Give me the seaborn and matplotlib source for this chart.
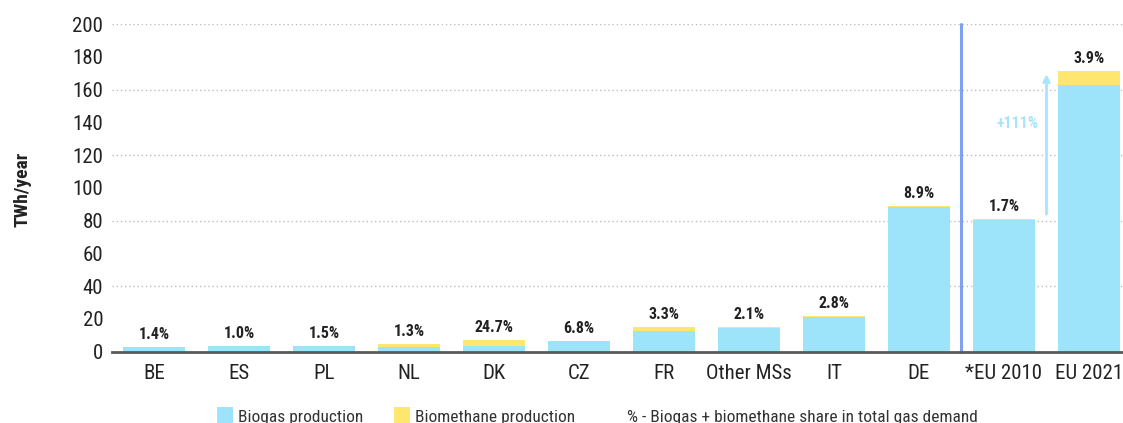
import matplotlib
matplotlib.use("Agg")
import matplotlib.pyplot as plt
from matplotlib.patches import Patch
import seaborn as sns
import numpy as np
import pandas as pd

# ---- data ----
categories = ["BE", "ES", "PL", "NL", "DK", "CZ", "FR", "Other MSs", "IT", "DE", "*EU 2010", "EU 2021"]
biogas = [2.9, 3.5, 3.5, 2.8, 3.4, 6.6, 12.8, 14.5, 20.9, 88.3, 80.6, 162.5]
biomethane = [0.0, 0.0, 0.0, 2.0, 3.9, 0.0, 2.3, 0.6, 1.0, 0.3, 0.6, 9.1]
share_labels = ["1.4%", "1.0%", "1.5%", "1.3%", "24.7%", "6.8%", "3.3%", "2.1%", "2.8%", "8.9%", "1.7%", "3.9%"]
y_ticks = [0, 20, 40, 60, 80, 100, 120, 140, 160, 180, 200]
grid_levels = [40, 80, 120, 160, 200]
growth_label = "+111%"
legend_labels = ["Biogas production", "Biomethane production", "% - Biogas + biomethane share in total gas demand"]
y_label = "TWh/year"

BLUE = "#9DE4FA"
YELLOW = "#FFE66F"
VLINE = "#7FA2F0"
ARROW = "#A6E6FA"
TXT = "#222222"

sns.set_theme(style="white")
plt.rcParams["font.family"] = ["Roboto Condensed", "DejaVu Sans"]

df = pd.DataFrame({"cat": categories, "biogas": biogas, "biomethane": biomethane})
df["total"] = df["biogas"] + df["biomethane"]

fig = plt.figure(figsize=(11.23, 4.23), dpi=100)
ax = fig.add_axes([111.5 / 1123, (423 - 351.5) / 423, 1 - 111.5 / 1123, (351.5 - 24) / 423])

for g in grid_levels:
    ax.axhline(g, color="#BDBDBD", linestyle=(0, (1, 2)), linewidth=1.0, zorder=0)

sns.barplot(data=df, x="cat", y="total", order=categories, color=YELLOW, saturation=1,
            width=0.72, ax=ax, zorder=2, edgecolor="none")
sns.barplot(data=df, x="cat", y="biogas", order=categories, color=BLUE, saturation=1,
            width=0.72, ax=ax, zorder=3, edgecolor="none")

ax.set_xlim(-0.5, (1123 - 154) / 85)
ax.set_ylim(0, 200)
ax.set_yticks(y_ticks)
ax.set_yticklabels([str(v) for v in y_ticks], fontsize=15, color=TXT)
ax.set_xticks(range(len(categories)))
ax.set_xticklabels(categories, fontsize=15, color=TXT)
ax.tick_params(axis="y", length=0, pad=6)
ax.tick_params(axis="x", length=0, pad=9)
ax.set_xlabel("")
ax.set_ylabel("")

for s in ["top", "right", "left"]:
    ax.spines[s].set_visible(False)
ax.spines["bottom"].set_color("#5A5A5A")
ax.spines["bottom"].set_linewidth(2)
ax.spines["bottom"].set_zorder(5)

# share labels
for i, (t, lab) in enumerate(zip(df["total"], share_labels)):
    ax.annotate(lab, (i, t), xytext=(0, 9), textcoords="offset points",
                ha="center", va="center", fontsize=11.5, fontweight="bold", color=TXT)

# separator line between DE and EU 2010
ax.plot([9.5, 9.5], [0, 200], color=VLINE, linewidth=2.2, zorder=4, clip_on=False)

# growth arrow
ax.annotate("", xy=(10.5, df["total"].iloc[-1] - 0.5), xytext=(10.5, df["total"].iloc[-2] + 1),
            arrowprops=dict(arrowstyle="->", color=ARROW, lw=2, mutation_scale=10))
ax.text(10.16, 139, growth_label, ha="center", va="center", fontsize=11.5,
        fontweight="bold", color=ARROW)

fig.text(23 / 1123, 1 - 189 / 423, y_label, rotation=90, ha="center", va="center",
         fontsize=14, fontweight="bold", color=TXT)

handles = [Patch(facecolor=BLUE, edgecolor="none"),
           Patch(facecolor=YELLOW, edgecolor="none"),
           Patch(facecolor="none", edgecolor="none")]
leg = fig.legend(handles, legend_labels, loc="center left",
                 bbox_to_anchor=(217 / 1123, 1 - 416 / 423), ncol=3, frameon=False,
                 fontsize=12.5, handlelength=0.92, handleheight=1.2, handletextpad=0.29,
                 columnspacing=1.78, borderpad=0, borderaxespad=0)
for t in leg.get_texts():
    t.set_color("#333333")

fig.savefig("out.png", dpi=100)
